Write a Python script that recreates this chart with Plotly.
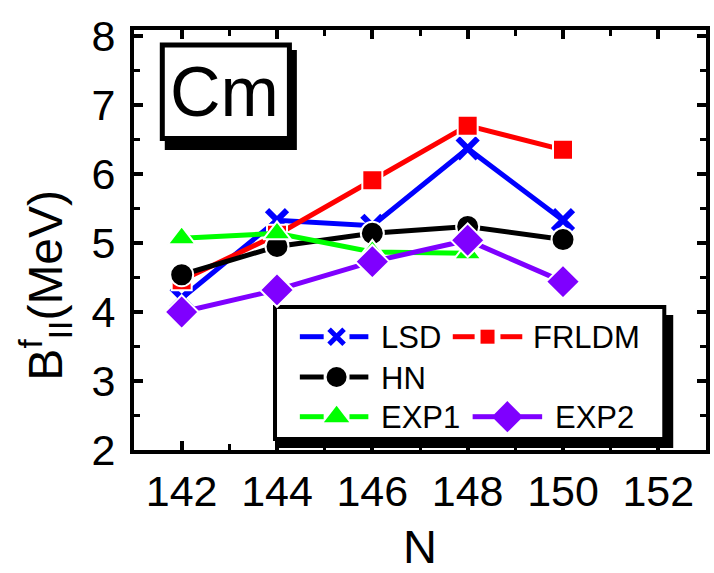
import plotly.graph_objects as go

# Neutron numbers and second-barrier heights (MeV) for Cm isotopes
N_all = [142, 144, 146, 148, 150]
N_exp1 = [142, 144, 146, 148]

lsd = [4.20, 5.33, 5.25, 6.37, 5.33]
frldm = [4.46, 5.12, 5.91, 6.70, 6.35]
hn = [4.54, 4.95, 5.14, 5.24, 5.05]
exp1 = [5.07, 5.14, 4.87, 4.85]
exp2 = [4.00, 4.32, 4.73, 5.04, 4.44]

x_ticks = [142, 144, 146, 148, 150, 152]
y_ticks = [2, 3, 4, 5, 6, 7, 8]

FONT = "Liberation Sans"
BLUE, RED, BLACK, GREEN, PURPLE = "#0000FF", "#FF0000", "#000000", "#00FF00", "#7F00FF"

# figure geometry (pixels)
W, H = 714, 573
L, R, T, B = 134, 4, 30, 123
PW, PH = W - L - R, H - T - B


def px(x):
    return (x - L) / PW


def py(y):
    return (H - B - y) / PH


series = [
    ("LSD", N_all, lsd, BLUE, dict(symbol="x-thin-open", size=20, line=dict(width=6, color=BLUE))),
    ("FRLDM", N_all, frldm, RED, dict(symbol="square", size=20, line=dict(width=2, color="white"))),
    ("HN", N_all, hn, BLACK, dict(symbol="circle", size=23, line=dict(width=2, color="white"))),
    ("EXP1", N_exp1, exp1, GREEN, dict(symbol="triangle-up", size=24, line=dict(width=2, color="white"))),
    ("EXP2", N_all, exp2, PURPLE, dict(symbol="diamond", size=26, line=dict(width=2, color="white"))),
]

fig = go.Figure()
for name, xs, ys, col, mk in series:
    mk = dict(mk)
    mk["color"] = col
    fig.add_trace(go.Scatter(x=xs, y=ys, mode="lines+markers", name=name,
                             line=dict(color=col, width=5), marker=mk,
                             showlegend=False, cliponaxis=False))


# boxed legend drawn on a pixel-coordinate overlay
def sample(x0, x1, xm, y, col, mk):
    fig.add_trace(go.Scatter(x=[x0, xm - 13, None, xm + 13, x1], y=[y, y, None, y, y],
                             mode="lines", line=dict(color=col, width=5),
                             xaxis="x2", yaxis="y2", showlegend=False, hoverinfo="skip"))
    m = dict(mk)
    m["color"] = col
    fig.add_trace(go.Scatter(x=[xm], y=[y], mode="markers", marker=m,
                             xaxis="x2", yaxis="y2", showlegend=False, hoverinfo="skip"))


shapes = [
    # Cm label box with drop shadow
    dict(type="rect", xref="x2", yref="y2", x0=165, y0=50, x1=298, y1=150,
         fillcolor="black", line=dict(width=0), layer="below"),
    dict(type="rect", xref="x2", yref="y2", x0=162.5, y0=45, x1=290.5, y1=138.5,
         fillcolor="white", line=dict(color="black", width=5), layer="below"),
    # legend box with drop shadow
    dict(type="rect", xref="x2", yref="y2", x0=278, y0=315, x1=677, y1=448,
         fillcolor="black", line=dict(width=0), layer="below"),
    dict(type="rect", xref="x2", yref="y2", x0=276, y0=307, x1=668, y1=439,
         fillcolor="white", line=dict(color="black", width=4), layer="below"),
]

leg_mk = {
    "LSD": dict(symbol="x-thin-open", size=15, line=dict(width=5, color=BLUE)),
    "FRLDM": dict(symbol="square", size=14),
    "HN": dict(symbol="circle", size=20),
    "EXP1": dict(symbol="triangle-up", size=22),
    "EXP2": dict(symbol="diamond", size=24),
}
leg_pos = [
    ("LSD", BLUE, 301, 370, 338, 336.7, 381),
    ("FRLDM", RED, 455, 525, 490, 336.7, 534),
    ("HN", BLACK, 301, 370, 338, 377, 381),
    ("EXP1", GREEN, 301, 370, 338, 416.7, 381),
    ("EXP2", PURPLE, 475, 545, 510, 416.7, 556),
]
annotations = []
for name, col, x0, x1, xm, y, tx in leg_pos:
    sample(x0, x1, xm, y, col, leg_mk[name])
    annotations.append(dict(text=name, xref="x2", yref="y2", x=tx, y=y + 1,
                            xanchor="left", yanchor="middle", showarrow=False,
                            font=dict(family=FONT, size=31, color="black")))

annotations += [
    dict(text="Cm", xref="x2", yref="y2", x=225, y=92, showarrow=False,
         xanchor="center", yanchor="middle", font=dict(family=FONT, size=70, color="black")),
    dict(text="N", xref="paper", yref="paper", x=px(422), y=py(546), showarrow=False,
         xanchor="center", yanchor="middle", font=dict(family=FONT, size=47, color="black")),
    dict(text="B<sup>f</sup><sub>II</sub>(MeV)", xref="paper", yref="paper", x=px(44), y=py(285),
         textangle=-90, showarrow=False, xanchor="center", yanchor="middle",
         font=dict(family=FONT, size=48, color="black")),
]

axis_common = dict(showline=True, linewidth=4, linecolor="black", mirror="ticks",
                   ticks="inside", ticklen=9, tickwidth=4, tickcolor="black",
                   showgrid=False, zeroline=False,
                   tickfont=dict(family=FONT, size=43, color="black"))

fig.update_layout(
    width=W, height=H,
    margin=dict(l=L, r=R, t=T, b=B),
    paper_bgcolor="white", plot_bgcolor="white",
    xaxis=dict(range=[141, 153], tickvals=x_ticks, ticktext=[str(v) for v in x_ticks],
               minor=dict(dtick=1, tick0=141, ticks="inside", ticklen=6, tickwidth=3, tickcolor="black"),
               ticklabelstandoff=0, **axis_common),
    yaxis=dict(range=[2, 8 + 6 / 69], tickvals=y_ticks,
               minor=dict(dtick=0.5, tick0=2, ticks="inside", ticklen=6, tickwidth=3, tickcolor="black"),
               ticklabelstandoff=6, **axis_common),
    xaxis2=dict(overlaying="x", range=[L, W - R], visible=False, anchor="y2"),
    yaxis2=dict(overlaying="y", range=[H - B, T], visible=False, anchor="x2"),
    shapes=shapes,
    annotations=annotations,
    showlegend=False,
)

fig.write_html("out.html")
